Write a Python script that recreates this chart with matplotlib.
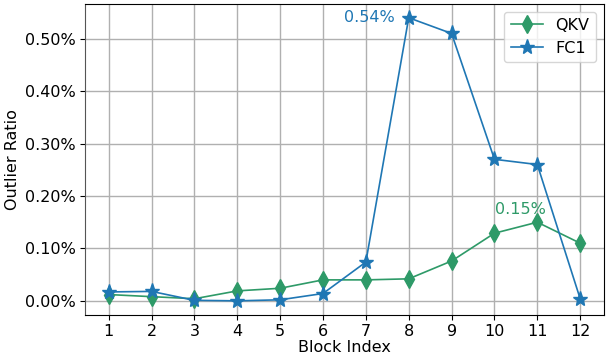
import matplotlib
matplotlib.use('Agg')
import matplotlib.pyplot as plt
from matplotlib.ticker import FuncFormatter

blocks = list(range(1, 13))
# outlier ratio in percent
qkv = [0.012, 0.008, 0.004, 0.019, 0.024, 0.040, 0.040, 0.042, 0.076, 0.129, 0.150, 0.110]
fc1 = [0.017, 0.018, 0.001, 0.000, 0.002, 0.014, 0.074, 0.540, 0.510, 0.270, 0.260, 0.004]

qkv_col = '#2e9a68'
fc1_col = '#1f77b4'

fig = plt.figure(figsize=(6.08, 3.6), dpi=100)
ax = fig.add_subplot(111)

ax.plot(blocks, qkv, c=qkv_col, marker='d', ms=9, lw=1.2, label='QKV')
ax.plot(blocks, fc1, c=fc1_col, marker='*', ms=11, lw=1.2, label='FC1')

# peak labels
ax.text(8 - 0.33, max(fc1), '%.2f%%' % max(fc1), color=fc1_col, fontsize=11.5,
        ha='right', va='center')
ax.text(11 - 0.4, max(qkv) + 0.01, '%.2f%%' % max(qkv), color=qkv_col, fontsize=11.5,
        ha='center', va='bottom')

ax.set_xticks(blocks)
ax.yaxis.set_major_formatter(FuncFormatter(lambda v, p: '%.2f%%' % v))
ax.tick_params(labelsize=11.5, pad=3)
ax.grid(True, color='#b0b0b0', lw=1)
ax.set_axisbelow(True)
ax.spines['left'].set_color('#555555')
ax.set_xlabel('Block Index', fontsize=11.5, labelpad=1)
ax.set_ylabel('Outlier Ratio', fontsize=11.5)
ax.legend(fontsize=11.5, loc='upper right')

fig.subplots_adjust(left=0.14, right=0.993, top=0.99, bottom=0.125)
fig.savefig('out.png')
